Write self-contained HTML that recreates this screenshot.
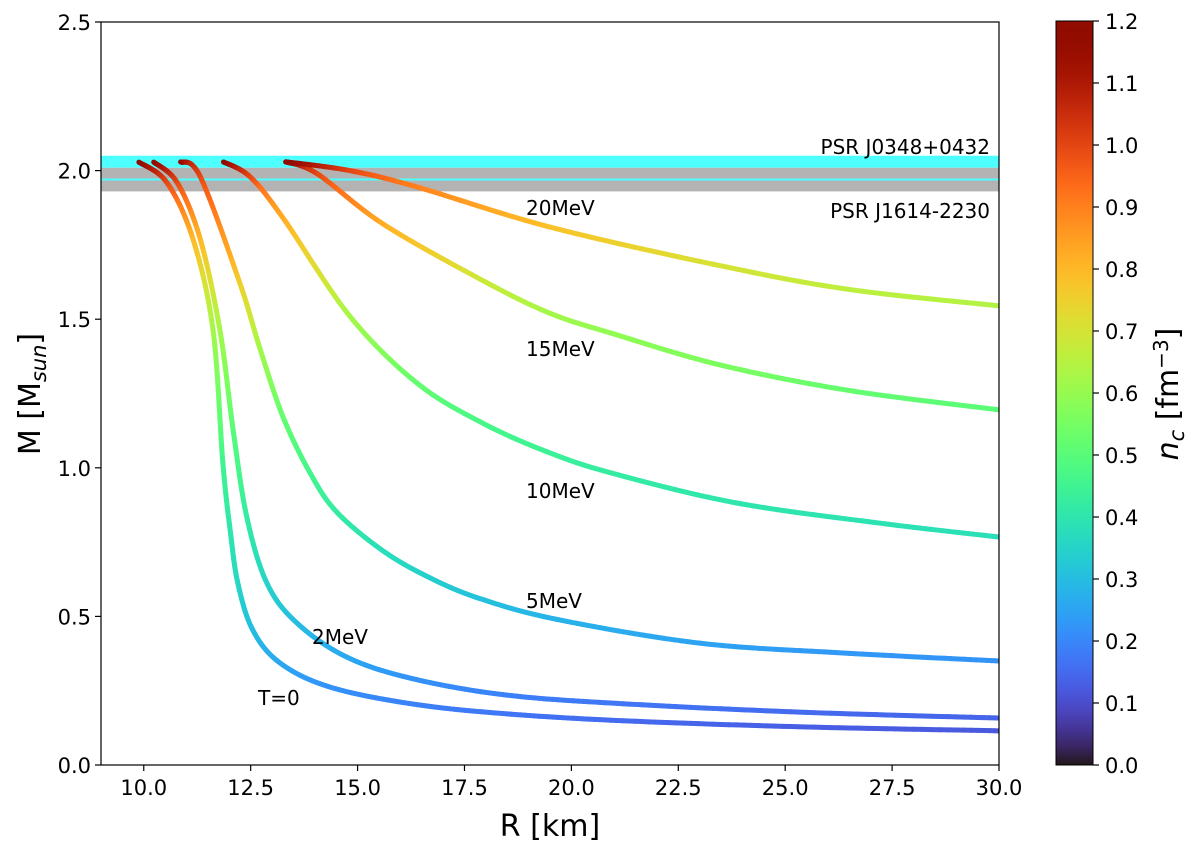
<!DOCTYPE html>
<html><head><meta charset="utf-8"><style>
html,body{margin:0;padding:0;background:#fff;}
svg{display:block;font-family:"DejaVu Sans","Liberation Sans",sans-serif;}
</style></head><body>
<svg id="chart" width="1200" height="851" viewBox="0 0 1200 851">
<defs>
<clipPath id="plotclip"><rect x="101" y="22" width="898" height="743"/></clipPath>
<linearGradient id="cbgrad" x1="0" y1="1" x2="0" y2="0"></linearGradient>
</defs>
<g id="bands" clip-path="url(#plotclip)"></g>
<g id="curves" clip-path="url(#plotclip)"></g>
<rect x="101" y="22" width="898" height="743" fill="none" stroke="#000" stroke-width="1.2"/>
<g id="xticks"></g>
<g id="yticks"></g>
<text x="550" y="836" font-size="30" text-anchor="middle">R [km]</text>
<text transform="translate(40,394) rotate(-90)" font-size="30" text-anchor="middle">M [M<tspan font-size="21" dy="6" font-style="italic">sun</tspan><tspan dy="-6">]</tspan></text>
<text x="990" y="154" font-size="20" text-anchor="end">PSR J0348+0432</text>
<text x="990" y="218" font-size="20" text-anchor="end">PSR J1614-2230</text>
<text x="526" y="215" font-size="20">20MeV</text>
<text x="526" y="356" font-size="20">15MeV</text>
<text x="526" y="498" font-size="20">10MeV</text>
<text x="526" y="608" font-size="20">5MeV</text>
<text x="312" y="644" font-size="20">2MeV</text>
<text x="258" y="705" font-size="20">T=0</text>
<rect x="1056" y="21" width="37" height="744" fill="url(#cbgrad)" stroke="#000" stroke-width="1"/>
<g id="cbticks"></g>
<text transform="translate(1178,394) rotate(-90)" font-size="30" text-anchor="middle"><tspan font-style="italic">n</tspan><tspan font-style="italic" font-size="21" dy="6">c</tspan><tspan dy="-6"> [fm</tspan><tspan font-size="20" dy="-10">−3</tspan><tspan dy="10">]</tspan></text>
</svg>
<script>
const xTicks=[10.0,12.5,15.0,17.5,20.0,22.5,25.0,27.5,30.0];
const yTicks=[0.0,0.5,1.0,1.5,2.0,2.5];
const cbTicks=[0.0,0.1,0.2,0.3,0.4,0.5,0.6,0.7,0.8,0.9,1.0,1.1,1.2];
const bandCyan=[1.97,2.05];
const bandGray=[1.93,2.01];
const rT0=[9.87,10.54,11.15,11.62,11.85,12.02,12.20,12.55,13.19,14.36,16.3,18.5,21.35,25.5,30];
const mT0=[2.03,1.96,1.77,1.464,1.016,0.791,0.612,0.454,0.343,0.262,0.205,0.172,0.148,0.128,0.115];
const nT0=[1.2,1.0,0.8,0.62,0.45,0.4,0.36,0.3,0.26,0.22,0.19,0.17,0.15,0.13,0.12];
const r2=[10.22,10.78,11.32,11.78,12.09,12.41,12.88,13.58,14.75,16.3,18.5,21.35,25.5,30];
const m2=[2.03,1.96,1.77,1.464,1.127,0.834,0.612,0.478,0.363,0.29,0.235,0.205,0.177,0.158];
const n2=[1.2,1.0,0.8,0.62,0.5,0.42,0.35,0.3,0.26,0.22,0.19,0.17,0.15,0.14];
const r5=[10.85,11.32,12.25,12.72,13.26,13.9,14.52,15.6,16.69,17.86,19.66,23.0,26.35,30];
const m5=[2.03,1.98,1.62,1.40,1.17,0.98,0.85,0.72,0.63,0.56,0.49,0.41,0.377,0.35];
const n5=[1.2,1.0,0.75,0.62,0.52,0.46,0.42,0.38,0.34,0.31,0.28,0.25,0.23,0.22];
const r10=[11.85,12.48,13.26,14.82,16.39,17.93,19.5,21.0,23.85,27.2,30];
const m10=[2.03,1.98,1.84,1.51,1.285,1.15,1.05,0.98,0.882,0.814,0.767];
const n10=[1.2,1.0,0.82,0.62,0.52,0.47,0.44,0.42,0.4,0.39,0.38];
const r15=[13.3,14.05,15.6,17.93,19.5,21.0,23.48,26.5,30];
const m15=[2.03,1.99,1.82,1.63,1.52,1.45,1.346,1.26,1.195];
const n15=[1.2,1.0,0.82,0.68,0.62,0.59,0.56,0.52,0.5];
const r20=[13.3,14.82,16.39,19.5,23.48,26.5,30];
const m20=[2.03,2.0,1.945,1.81,1.68,1.6,1.545];
const n20=[1.2,1.0,0.9,0.78,0.7,0.66,0.64];

const NS='http://www.w3.org/2000/svg';
const X0=101,X1=999,Y0=765,Y1=22,XMIN=9,XMAX=30,YMIN=0,YMAX=2.5;
const CB0=765,CB1=21,CBMAX=1.2;
function sx(v){return X0+(v-XMIN)/(XMAX-XMIN)*(X1-X0);}
function sy(v){return Y0-(v-YMIN)/(YMAX-YMIN)*(Y0-Y1);}
function scb(v){return CB0-v/CBMAX*(CB0-CB1);}
function turbo(t){t=Math.max(0,Math.min(1,t));
 const r=0.13572138+t*(4.61539260+t*(-42.66032258+t*(132.13108234+t*(-152.94239396+t*59.28637943))));
 const g=0.09140261+t*(2.19418839+t*(4.84296658+t*(-14.18503333+t*(4.27729857+t*2.82956604))));
 const b=0.10667330+t*(12.64194608+t*(-60.58204836+t*(110.36276771+t*(-89.90310912+t*27.34824973))));
 const c=v=>Math.round(255*Math.max(0,Math.min(1,v)));
 return 'rgb('+c(r)+','+c(g)+','+c(b)+')';}
function mk(tag,attrs,parent){const e=document.createElementNS(NS,tag);for(const k in attrs)e.setAttribute(k,attrs[k]);parent.appendChild(e);return e;}

const bands=document.getElementById('bands');
let b1=mk('rect',{x:X0,y:sy(bandGray[1]),width:X1-X0,height:sy(bandGray[0])-sy(bandGray[1]),fill:'#b3b3b3'},bands);


let b2=mk('rect',{x:X0,y:sy(bandCyan[1]),width:X1-X0,height:sy(bandGray[1])-sy(bandCyan[1]),fill:'#4dffff'},bands);


let b3=mk('rect',{x:X0,y:sy(bandCyan[0])-1,width:X1-X0,height:2,fill:'#4dffff'},bands);



const grad=document.getElementById('cbgrad');
for(let i=0;i<=40;i++){mk('stop',{offset:(i/40),'stop-color':turbo(i/40)},grad);}

const curves=document.getElementById('curves');
function drawCurve(R,M,N,name){
 const g=mk('g',{},curves);
 
 
 const P=R.map((r,i)=>[sx(r),sy(M[i]),N[i]]);
 const pts=[];
 for(let i=0;i<P.length-1;i++){
  const p0=P[Math.max(0,i-1)],p1=P[i],p2=P[i+1],p3=P[Math.min(P.length-1,i+2)];
  const steps=24;
  for(let s=0;s<steps;s++){const t=s/steps,t2=t*t,t3=t2*t;
   const f=(a,b,c,d)=>0.5*((2*b)+(-a+c)*t+(2*a-5*b+4*c-d)*t2+(-a+3*b-3*c+d)*t3);
   pts.push([f(p0[0],p1[0],p2[0],p3[0]),f(p0[1],p1[1],p2[1],p3[1]),p1[2]+(p2[2]-p1[2])*t]);}
 }
 pts.push(P[P.length-1]);
 for(let i=0;i<pts.length-1;i++){
  mk('line',{x1:pts[i][0],y1:pts[i][1],x2:pts[i+1][0],y2:pts[i+1][1],stroke:turbo(pts[i][2]/CBMAX),'stroke-width':5,'stroke-linecap':i===0?'butt':'round'},g);
 }
}
drawCurve(rT0,mT0,nT0,'curve-t0');
drawCurve(r2,m2,n2,'curve-2mev');
drawCurve(r5,m5,n5,'curve-5mev');
drawCurve(r10,m10,n10,'curve-10mev');
drawCurve(r15,m15,n15,'curve-15mev');
drawCurve(r20,m20,n20,'curve-20mev');

const xg=document.getElementById('xticks');
xTicks.forEach(v=>{const x=sx(v);
 mk('line',{x1:x,y1:Y0,x2:x,y2:Y0+6,stroke:'#000','stroke-width':1.2},xg);
 const t=mk('text',{x:x,y:Y0+30,'font-size':21,'text-anchor':'middle'},xg);t.textContent=v.toFixed(1);
 
 });
const yg=document.getElementById('yticks');
yTicks.forEach(v=>{const y=sy(v);
 mk('line',{x1:X0-6,y1:y,x2:X0,y2:y,stroke:'#000','stroke-width':1.2},yg);
 const t=mk('text',{x:X0-10,y:y+8,'font-size':21,'text-anchor':'end'},yg);t.textContent=v.toFixed(1);
 
 });
const cg=document.getElementById('cbticks');
cbTicks.forEach(v=>{const y=scb(v);
 mk('line',{x1:1093,y1:y,x2:1099,y2:y,stroke:'#000','stroke-width':1.2},cg);
 const t=mk('text',{x:1105,y:y+8,'font-size':21},cg);t.textContent=v.toFixed(1);
 
 });
</script>
</body></html>
